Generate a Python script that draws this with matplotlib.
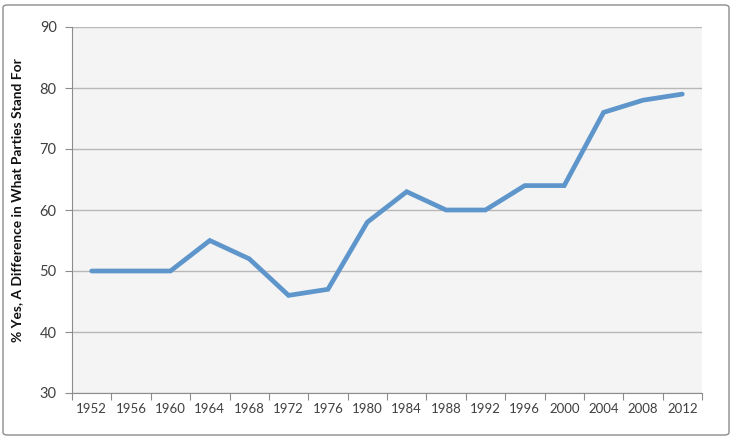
import numpy as np
import matplotlib.pyplot as plt
from matplotlib.patches import FancyBboxPatch

years = ["1952", "1956", "1960", "1964", "1968", "1972", "1976", "1980",
         "1984", "1988", "1992", "1996", "2000", "2004", "2008", "2012"]
pct_yes = [50, 50, 50, 55, 52, 46, 47, 58, 63, 60, 60, 64, 64, 76, 78, 79]

plt.rcParams['font.family'] = ['Lato', 'DejaVu Sans']

fig = plt.figure(figsize=(7.33, 4.38), dpi=100)
fig.patch.set_facecolor('white')

# outer chart border
border = FancyBboxPatch((3 / 733, 3 / 438), 726 / 733, 430 / 438,
                        boxstyle="round,pad=0,rounding_size=0.006",
                        transform=fig.transFigure, fill=False,
                        edgecolor='#8c8c8c', linewidth=1.0)
fig.patches.append(border)

ax = fig.add_axes([72 / 733, 45 / 438, 630 / 733, 366 / 438])
ax.set_facecolor('#f4f4f4')

x = np.arange(len(years))
ax.plot(x, pct_yes, color='#5e96cb', linewidth=3.4, solid_capstyle='round',
        solid_joinstyle='miter', zorder=3)

ax.set_xlim(-0.5, len(years) - 0.5)
ax.set_ylim(30, 90)
ax.set_yticks(range(30, 91, 10))
ax.yaxis.grid(True, color='#b8b8b8', linewidth=1.0)
ax.set_axisbelow(True)

# category ticks on boundaries, labels in the middle
ax.set_xticks(np.arange(-0.5, len(years), 1.0))
ax.set_xticklabels([])
ax.set_xticks(x, minor=True)
ax.set_xticklabels(years, minor=True)
ax.tick_params(axis='x', which='major', length=5, color='#8c8c8c', direction='out')
ax.tick_params(axis='x', which='minor', length=0, pad=7, labelsize=9.5, labelcolor='#404040')
ax.tick_params(axis='y', length=5, color='#8c8c8c', labelsize=10.5, labelcolor='#404040', pad=6)

for s in ['top', 'right']:
    ax.spines[s].set_visible(False)
for s in ['left', 'bottom']:
    ax.spines[s].set_color('#8c8c8c')

ax.set_ylabel('% Yes, A Difference in What Parties Stand For', fontsize=9.9,
              fontweight='bold', color='#111111')
ax.yaxis.set_label_coords(-0.077, 0.527)

fig.savefig('out.png', dpi=100)
